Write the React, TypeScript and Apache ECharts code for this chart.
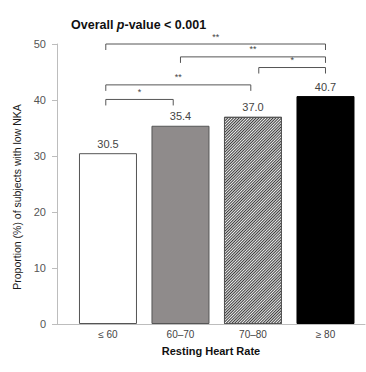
import React, { useEffect, useRef } from "react";
import * as echarts from "echarts";

const categories = ["≤ 60", "60–70", "70–80", "≥ 80"];
const values = [30.5, 35.4, 37.0, 40.7];
const yTicks = [0, 10, 20, 30, 40, 50];

// significance brackets (category positions and heights in % units)
const bracketFrom = [-0.03, 1.0, 2.08, -0.03, -0.03];
const bracketTo = [3.0, 3.0, 3.0, 1.97, 0.9];
const bracketLevel = [50.0, 47.7, 45.8, 42.7, 40.1];
const bracketLabel = ["**", "**", "*", "**", "*"];

const FONT = "'Liberation Sans', Arial, Helvetica, sans-serif";

export default function App() {
  const ref = useRef<HTMLDivElement>(null);
  useEffect(() => {
    if (!ref.current) return;
    document.body.style.margin = "0";
    const chart = echarts.init(ref.current, undefined, { renderer: "svg" });
    const barStyles = [
      { color: "#ffffff", borderColor: "#555555", borderWidth: 1 },
      { color: "#8f8b8b", borderColor: "#555555", borderWidth: 1 },
      {
        color: "#eeeeee",
        borderColor: "#555555",
        borderWidth: 1,
        decal: {
          symbol: "rect",
          symbolSize: 1,
          color: "#3a3a3a",
          dashArrayX: [1, 0],
          dashArrayY: [1, 1],
          rotation: -Math.PI / 4,
        },
      },
      { color: "#000000", borderColor: "#000000", borderWidth: 1 },
    ];
    const bracketData = bracketFrom.map((f, i) => [f, bracketTo[i], bracketLevel[i], i]);
    chart.setOption({
      animation: false,
      textStyle: { fontFamily: FONT },
      title: {
        text: "{a|Overall }{b|p}{a|-value < 0.001}",
        left: 66,
        top: 13,
        textStyle: {
          rich: {
            a: { fontSize: 12.5, fontWeight: "bold", color: "#111", fontFamily: FONT },
            b: { fontSize: 12.5, fontWeight: "bold", fontStyle: "italic", color: "#111", fontFamily: FONT },
          },
        },
      },
      grid: { left: 57, right: 1, top: 44, bottom: 48, containLabel: false },
      xAxis: {
        type: "value",
        min: -0.703,
        max: 3.545,
        name: "Resting Heart Rate",
        nameLocation: "middle",
        nameGap: 21,
        nameTextStyle: { fontSize: 11, fontWeight: "bold", color: "#111", fontFamily: FONT },
        axisLine: { show: true, onZero: false, lineStyle: { color: "#bdbdbd", width: 1 } },
        axisTick: { show: false },
        splitLine: { show: false },
        axisLabel: {
          customValues: [0, 1, 2, 3],
          formatter: (v: number) => categories[Math.round(v)] ?? "",
          fontSize: 10,
          color: "#444",
          margin: 5,
          fontFamily: FONT,
        },
      },
      yAxis: {
        type: "value",
        min: 0,
        max: 50,
        interval: 10,
        name: "Proportion (%) of subjects with low NKA",
        nameLocation: "middle",
        nameGap: 32,
        nameTextStyle: { fontSize: 10.5, color: "#1a1a1a", fontFamily: FONT, padding: [0, 26, 0, 0] },
        axisLine: { show: true, onZero: false, lineStyle: { color: "#bdbdbd", width: 1 } },
        axisTick: { show: true, length: 5, lineStyle: { color: "#bdbdbd" } },
        splitLine: { show: false },
        axisLabel: {
          fontSize: 11,
          color: "#555",
          margin: 11,
          fontFamily: FONT,
          formatter: (v: number) => (yTicks.includes(v) ? String(v) : ""),
        },
      },
      series: [
        {
          type: "bar",
          barWidth: 58,
          data: values.map((v, i) => ({ value: [i, v], itemStyle: barStyles[i] })),
          label: {
            show: true,
            position: "top",
            distance: 4,
            fontSize: 11,
            color: "#444",
            fontFamily: FONT,
            formatter: (p: any) => (p.value[1] as number).toFixed(1),
          },
        },
        {
          type: "custom",
          clip: false,
          silent: true,
          data: bracketData,
          encode: { x: [0, 1], y: 2 },
          renderItem: (params: any, api: any) => {
            const a = api.coord([api.value(0), api.value(2)]);
            const b = api.coord([api.value(1), api.value(2)]);
            const idx = api.value(3);
            const drop = 6;
            const ls = { stroke: "#555555", lineWidth: 1 };
            return {
              type: "group",
              children: [
                { type: "line", shape: { x1: a[0], y1: a[1], x2: b[0], y2: b[1] }, style: ls },
                { type: "line", shape: { x1: a[0], y1: a[1], x2: a[0], y2: a[1] + drop }, style: ls },
                { type: "line", shape: { x1: b[0], y1: b[1], x2: b[0], y2: b[1] + drop }, style: ls },
                {
                  type: "text",
                  x: (a[0] + b[0]) / 2,
                  y: a[1] - 3,
                  style: {
                    text: bracketLabel[idx],
                    fontSize: 9,
                    fill: "#444",
                    align: "center",
                    verticalAlign: "bottom",
                    fontFamily: FONT,
                  },
                },
              ],
            };
          },
        },
      ],
    });
    return () => chart.dispose();
  }, []);
  return <div ref={ref} style={{ width: 366, height: 372 }} />;
}
